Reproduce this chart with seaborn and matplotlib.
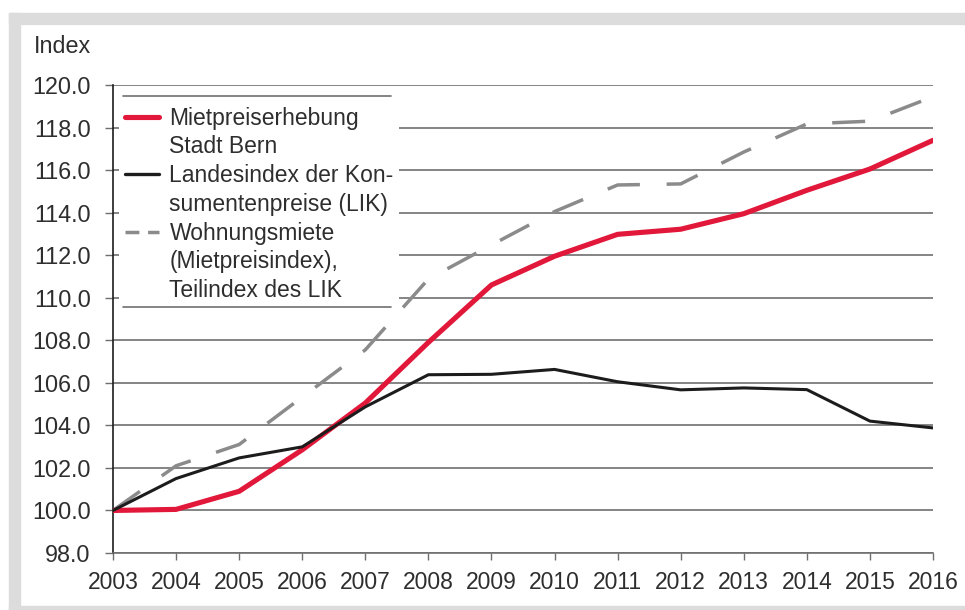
import matplotlib
matplotlib.use("Agg")
import matplotlib.pyplot as plt
from matplotlib.patches import Rectangle
from matplotlib.lines import Line2D
import seaborn as sns
import pandas as pd

years = [2003, 2004, 2005, 2006, 2007, 2008, 2009, 2010, 2011, 2012, 2013, 2014, 2015, 2016]
miet_bern = [100.0, 100.05, 100.9, 102.85, 105.05, 107.9, 110.6, 111.95, 112.98, 113.22, 113.95, 115.05, 116.05, 117.4]
lik = [100.0, 101.5, 102.47, 102.99, 104.87, 106.38, 106.4, 106.63, 106.05, 105.67, 105.76, 105.68, 104.2, 103.88]
wohnungsmiete = [100.0, 102.1, 103.1, 105.33, 107.55, 110.88, 112.48, 114.05, 115.3, 115.35, 116.85, 118.17, 118.3, 119.45]

labels_red = ["Mietpreiserhebung", "Stadt Bern"]
labels_black = ["Landesindex der Kon-", "sumentenpreise (LIK)"]
labels_gray = ["Wohnungsmiete", "(Mietpreisindex),", "Teilindex des LIK"]
y_ticks = [98.0, 100.0, 102.0, 104.0, 106.0, 108.0, 110.0, 112.0, 114.0, 116.0, 118.0, 120.0]

sns.set_theme(style="white")
plt.rcParams["font.family"] = ["Liberation Sans", "DejaVu Sans"]
TXT = "#2e2e2e"
GRID = "#6f6f6f"
RED = "#e2183a"
BLACK = "#1c1c1c"
GRAY = "#8b8b8b"

df = pd.DataFrame({"year": years, "red": miet_bern, "black": lik, "gray": wohnungsmiete})

fig = plt.figure(figsize=(9.65, 6.1), dpi=100)
W, H = 965, 610
# grey frame
frame_c = "#dcdcdc"
fig.patches.append(Rectangle((9 / W, 1 - 24 / H), 1, 11 / H, transform=fig.transFigure, color=frame_c, zorder=0))
fig.patches.append(Rectangle((9 / W, 0), 11 / W, 1 - 13 / H, transform=fig.transFigure, color=frame_c, zorder=0))
fig.patches.append(Rectangle((9 / W, 0), 1, 4 / H, transform=fig.transFigure, color=frame_c, zorder=0))

ax = fig.add_axes([113 / W, 1 - 553 / H, 820 / W, 468 / H])
ax.set_facecolor("none")

sns.lineplot(data=df, x="year", y="gray", ax=ax, color=GRAY, linewidth=2.5, zorder=3)
ax.lines[-1].set_dashes((9.5, 7.7))
sns.lineplot(data=df, x="year", y="red", ax=ax, color=RED, linewidth=3.7, zorder=4)
sns.lineplot(data=df, x="year", y="black", ax=ax, color=BLACK, linewidth=2.2, zorder=5)

ax.set_xlim(2003, 2016)
ax.set_ylim(98, 120)
ax.set_xticks(years)
ax.set_xticklabels([str(y) for y in years])
ax.set_yticks(y_ticks)
ax.set_yticklabels([f"{v:.1f}" for v in y_ticks])
ax.set_xlabel("")
ax.set_ylabel("")
ax.grid(axis="y", color=GRID, linewidth=1.2, zorder=1)
ax.set_axisbelow(True)
for s in ["top", "right"]:
    ax.spines[s].set_visible(False)
ax.spines["left"].set_color(BLACK)
ax.spines["left"].set_linewidth(1.2)
ax.spines["bottom"].set_color(GRID)
ax.spines["bottom"].set_linewidth(1.2)
ax.tick_params(axis="y", length=6, width=1.0, color=GRID, pad=10, labelsize=16.8, labelcolor=TXT, left=True)
ax.tick_params(axis="x", length=5, width=1.0, color=GRID, pad=8, labelsize=16.5, labelcolor=TXT, bottom=True)

fig.text(34 / W, 1 - 53 / H, "Index", fontsize=16.8, color=TXT, va="baseline", ha="left")

blank = Line2D([], [], color="none")
handles = [Line2D([], [], color=RED, linewidth=3.7), blank,
           Line2D([], [], color=BLACK, linewidth=2.4), blank,
           Line2D([], [], color=GRAY, linewidth=2.5, dashes=(4, 2.5)), blank, blank]
labels = [labels_red[0], labels_red[1], labels_black[0], labels_black[1],
          labels_gray[0], labels_gray[1], labels_gray[2]]
leg = ax.legend(handles, labels, loc="upper left", bbox_to_anchor=(6 / 820, (553 - 101) / 468),
                borderaxespad=0, frameon=True, fancybox=False, fontsize=16.5,
                handlelength=1.5, handletextpad=0.45, labelspacing=0.25, borderpad=0.25)
leg.get_frame().set_facecolor("white")
leg.get_frame().set_edgecolor("none")
leg.get_frame().set_alpha(1)
for t in leg.get_texts():
    t.set_color(TXT)
leg.set_zorder(6)
for py in (96, 307):
    ax.add_line(Line2D([10 / 820, 278 / 820], [(553 - py) / 468] * 2, transform=ax.transAxes,
                       color=GRID, linewidth=1.2, zorder=7, clip_on=False))

fig.savefig("out.png", dpi=100)
